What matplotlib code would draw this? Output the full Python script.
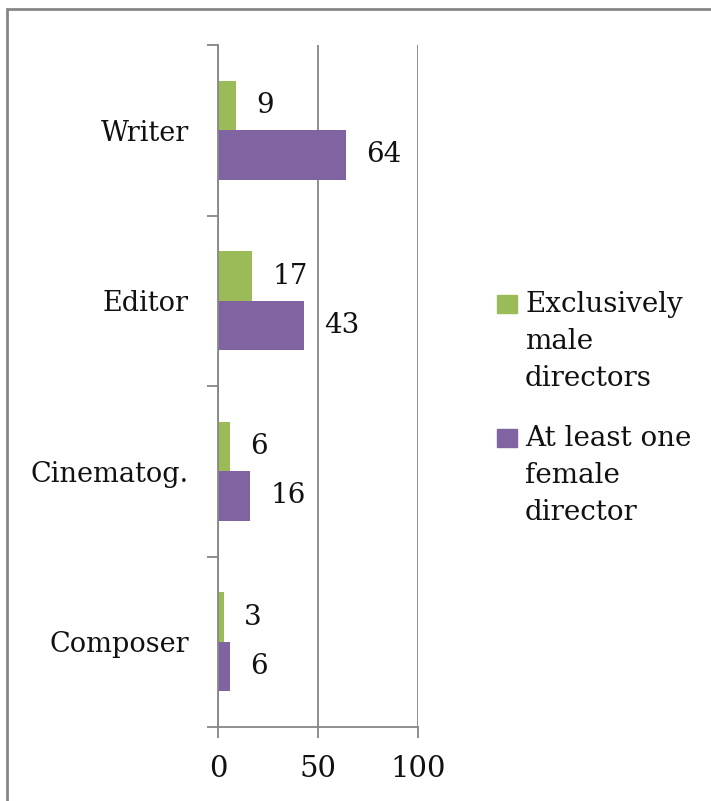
import matplotlib
matplotlib.use("Agg")
import matplotlib.pyplot as plt
import numpy as np
from matplotlib.patches import Rectangle

categories = ["Writer", "Editor", "Cinematog.", "Composer"]
male_only = [9, 17, 6, 3]
female_any = [64, 43, 16, 6]
series_labels = ["Exclusively\nmale\ndirectors", "At least one\nfemale\ndirector"]
x_ticks = [0, 50, 100]

green = "#9BBB59"
purple = "#8064A2"
gray = "#868686"
txt = "#111111"

W, H = 711, 801
plt.rcParams['font.family'] = ['DejaVu Serif']
fig = plt.figure(figsize=(W/100, H/100), dpi=100)
ax = fig.add_axes([218/W, 1-727/H, 200/W, (727-45)/H])

n = len(categories)
y = np.arange(n)[::-1].astype(float)  # Writer at top
h = 0.29
b1 = ax.barh(y + h/2, male_only, height=h, color=green, label=series_labels[0])
b2 = ax.barh(y - h/2, female_any, height=h, color=purple, label=series_labels[1])

for bars, vals in ((b1, male_only), (b2, female_any)):
    for bar, v in zip(bars, vals):
        ax.annotate(str(v), (bar.get_width(), bar.get_y() + bar.get_height()/2),
                    xytext=(14.5, 0), textcoords="offset points",
                    ha="left", va="center", fontsize=20, color=txt)

ax.set_xlim(0, 100)
ax.set_ylim(-0.5, n - 0.5)
ax.set_xticks(x_ticks)
ax.set_xticklabels([str(t) for t in x_ticks], fontsize=21, color=txt)
ax.set_yticks(y)
ax.set_yticklabels(categories, fontsize=19.5, color=txt)
ax.set_yticks(np.arange(-0.5, n, 1.0), minor=True)
ax.tick_params(axis="y", which="major", length=0, pad=21)
ax.tick_params(axis="y", which="minor", length=8, color=gray, width=1.3, direction="out")
ax.tick_params(axis="x", which="major", length=8, color=gray, width=1.3, pad=12.5)
ax.xaxis.grid(True, color=gray, linewidth=1.3)
ax.set_axisbelow(True)
for s in ("top", "right"):
    ax.spines[s].set_visible(False)
for s in ("left", "bottom"):
    ax.spines[s].set_color(gray)
    ax.spines[s].set_linewidth(1.3)

# legend drawn manually so the swatch lines up with the first text line
legend_tops = [295, 429]
for label, color, top in zip(series_labels, [green, purple], legend_tops):
    fig.patches.append(Rectangle((497/W, 1-(top+18)/H), 20/W, 18/H,
                                 transform=fig.transFigure, color=color))
    fig.text(525/W, 1-(top-4)/H, label, ha="left", va="top",
             fontsize=20, color=txt, linespacing=1.47)

fig.patches.append(Rectangle((7/W, -0.1), 1.2, 1 - 9/H + 0.1,
                             transform=fig.transFigure, fill=False,
                             edgecolor=gray, linewidth=2))

fig.savefig("out.png", dpi=100)
